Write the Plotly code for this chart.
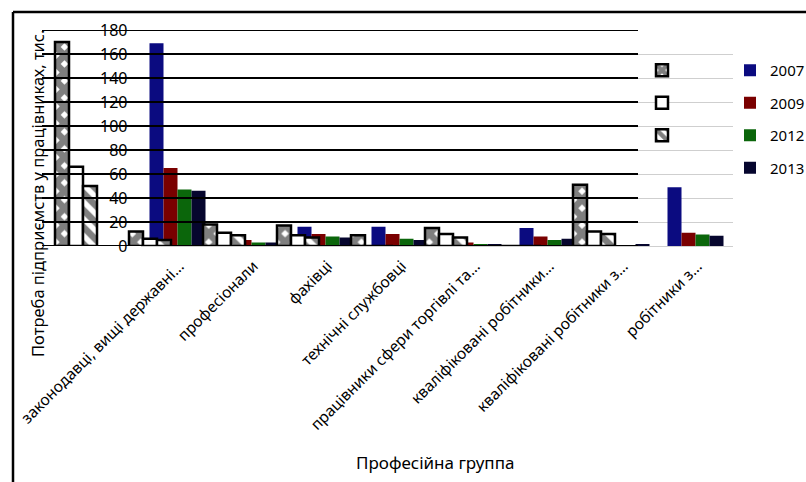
import plotly.graph_objects as go

W, H = 806, 482

categories = [
    "законодавці, вищі державні…",
    "професіонали",
    "фахівці",
    "технічні службовці",
    "працівники сфери торгівлі та…",
    "кваліфіковані робітники…",
    "кваліфіковані робітники з…",
    "робітники з…",
]
years = ["2007", "2009", "2012", "2013"]
v2007 = [169, 10, 16, 16, 5, 15, 1, 49]
v2009 = [65, 5, 10, 10, 3, 8, 0.5, 11]
v2012 = [47, 3, 8, 6, 1, 5, 0.5, 9.5]
v2013 = [46, 3, 7, 5, 1, 6, 1, 8.5]

# overlaid patterned (black & white) series, unlabeled
pat_a = [170, 12, 18, 17, 9, 15, 0, 51]
pat_b = [66, 6, 11, 9, 0, 10, 0, 12]
pat_c = [50, 5, 9, 7, 0, 7, 0, 10]

y_ticks = [0, 20, 40, 60, 80, 100, 120, 140, 160, 180]

colors = ["#0b0b80", "#7a0000", "#0b660b", "#06062e"]

def px(x):
    return x / W

def py(y):
    return 1 - y / H

fig = go.Figure()

bw = 14 / 74
series = [v2007, v2009, v2012, v2013]
for i, (name, vals, col) in enumerate(zip(years, series, colors)):
    fig.add_trace(go.Bar(
        x=categories, y=vals, name=name,
        marker=dict(color=col, line=dict(width=0)),
        width=bw, offset=-2 * bw + i * bw,
        xaxis="x", yaxis="y", legend="legend", legendgroup=name,
    ))

pat_series = [pat_a, pat_b, pat_c]
pat_shapes = ["x", "", "\\"]
pat_solid = [0.8, 0.3, 0.55]
for i, vals in enumerate(pat_series):
    fig.add_trace(go.Bar(
        x=categories, y=vals, name=" ",
        marker=dict(
            color="white",
            line=dict(color="black", width=2.5),
            pattern=dict(shape=pat_shapes[i], fgcolor="black", bgcolor="white",
                         size=12, solidity=pat_solid[i]),
        ),
        width=bw, offset=-1.5 * bw + i * bw,
        xaxis="x2", yaxis="y2", legend="legend2", legendgroup="p%d" % i,
    ))

ydom = [py(246), py(30)]

shapes = []
for t in y_ticks:
    shapes.append(dict(type="line", xref="paper", yref="y2",
                       x0=px(42), x1=px(638), y0=t, y1=t,
                       line=dict(color="black", width=2), layer="above"))
# outer frame (left and top edges)
shapes.append(dict(type="line", xref="paper", yref="paper",
                   x0=px(13), x1=px(13), y0=py(12), y1=0,
                   line=dict(color="black", width=2.5)))
shapes.append(dict(type="line", xref="paper", yref="paper",
                   x0=px(13), x1=1, y0=py(12), y1=py(12),
                   line=dict(color="black", width=2.5)))

fig.update_layout(
    width=W, height=H, autosize=False,
    margin=dict(l=0, r=0, t=0, b=0, autoexpand=False),
    paper_bgcolor="white", plot_bgcolor="rgba(0,0,0,0)",
    font=dict(family="Noto Sans", color="black"),
    barmode="overlay",
    showlegend=True,
    xaxis=dict(domain=[px(140.5), px(732.5)], range=[-0.5, 7.5],
               type="category", tickangle=-45, showgrid=False, automargin=False,
               showline=False, ticks="", tickfont=dict(size=15.5),
               ticklabelstandoff=7, ticklabelshift=2),
    yaxis=dict(domain=ydom, range=[0, 180], tickvals=y_ticks, automargin=False,
               showgrid=True, gridcolor="#cfcfcf", gridwidth=1,
               zeroline=True, zerolinecolor="#cfcfcf", zerolinewidth=1,
               ticks="", tickfont=dict(size=16), ticklabelstandoff=12),
    xaxis2=dict(domain=[px(39), px(631)], range=[-0.5, 7.5], type="category",
                anchor="y2", showticklabels=False, automargin=False,
                showgrid=False, showline=False, ticks="", zeroline=False),
    yaxis2=dict(domain=ydom, range=[0, 180], anchor="x2",
                automargin=False,
                showticklabels=False, showgrid=False, zeroline=False, ticks=""),
    legend=dict(x=px(730), y=py(54), xanchor="left", yanchor="top",
                font=dict(size=15), tracegroupgap=10, bgcolor="rgba(0,0,0,0)"),
    legend2=dict(x=px(642), y=py(54), xanchor="left", yanchor="top",
                 font=dict(size=15), tracegroupgap=10, bgcolor="rgba(0,0,0,0)"),
    shapes=shapes,
    annotations=[
        dict(text="Потреба підприємств у працівниках, тис.", xref="paper", yref="paper",
             x=px(37), y=py(194), textangle=-90, showarrow=False,
             font=dict(size=16.5), xanchor="center", yanchor="middle"),
        dict(text="Професійна группа", xref="paper", yref="paper",
             x=px(435), y=py(462), showarrow=False,
             font=dict(size=17), xanchor="center", yanchor="middle"),
    ],
)

fig.write_html("out.html", post_script="document.body.style.margin='0';",
               config={"displayModeBar": False})
